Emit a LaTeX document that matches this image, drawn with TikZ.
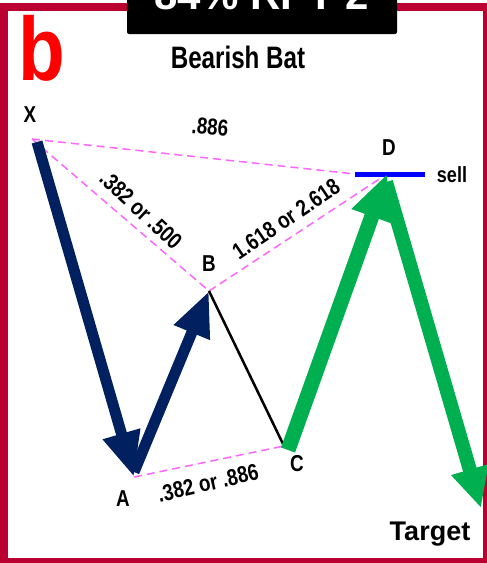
\documentclass[tikz,border=0pt]{standalone}
\usepackage{fontspec}
\setmainfont{Liberation Sans}
\usetikzlibrary{arrows.meta}
\definecolor{framecol}{RGB}{186,0,48}
\definecolor{navycol}{RGB}{0,32,96}
\definecolor{greencol}{RGB}{0,176,80}
\definecolor{fibcol}{RGB}{255,102,255}
\newcommand{\fsz}[1]{\fontsize{#1}{#1}\selectfont}
\newcommand{\nar}[1]{\scalebox{0.82}[1]{#1}}
\begin{document}
\begin{tikzpicture}[x=1pt,y=-1pt,
  fib/.style={draw=fibcol, line width=1.5pt, dash pattern=on 8pt off 5pt},
  navyarrow/.style={draw=navycol, line width=11pt, -{Triangle[length=45pt,width=36pt]}},
  greenarrow/.style={draw=greencol, line width=15pt, -{Triangle[length=45pt,width=40pt]}},
  ptlabel/.style={inner sep=0pt, font=\bfseries\fsz{23}},
  ratio/.style={inner sep=0pt, font=\bfseries\fsz{23}}]
\useasboundingbox (0,0) rectangle (487,563);
\clip (0,0) rectangle (487,563);
\fill[white] (0,0) rectangle (487,563);
% frame
\draw[framecol, line width=8pt] (4,7) rectangle (487,562);
% black title box
\fill[black, rounded corners=2pt] (127,-6) rectangle (397,34);
\node[anchor=base, inner sep=0pt, text=white, font=\bfseries\fsz{42}] (rpt) at (262,9) {84\% RPT 2};
% big b
\node[anchor=base, inner sep=0pt, text=red, font=\bfseries\fsz{90}] (bee) at (42,80) {\scalebox{0.85}[1]{b}};
% title
\node[anchor=base, inner sep=0pt, font=\bfseries\fsz{31}] (title) at (238,68) {\scalebox{0.78}[1]{Bearish Bat}};
% points
\coordinate (X) at (32,139);
\coordinate (Xs) at (37,142);
\coordinate (A) at (134,477);
\coordinate (As) at (134,472);
\coordinate (B) at (209,291);
\coordinate (C) at (284,446);
\coordinate (Cs) at (288,450);
\coordinate (D) at (387,174);
\coordinate (Ds) at (386,182);
\coordinate (T) at (481,508);
\coordinate (sellL) at (355,174);
\coordinate (sellR) at (425,174);
% fib lines
\draw[fib] (X) -- (sellL);
\draw[fib] (X) -- (B);
\draw[fib] (B) -- (D);
\draw[fib] (A) -- (C);
% BC line
\draw[black, line width=2.5pt] (B) -- (C);
% sell line
\draw[blue, line width=5pt] (sellL) -- (sellR);
% arrows
\draw[navyarrow] (Xs) -- (A);
\draw[navyarrow] (As) -- (B);
\draw[greenarrow] (Cs) -- (D);
\draw[greenarrow, line width=14pt, -{Triangle[length=40pt,width=36pt]}] (Ds) -- (T);
% labels
\node[ptlabel] (lX) at (30,115) {\nar{X}};
\node[ptlabel] (lA) at (123,499) {\nar{A}};
\node[ptlabel] (lB) at (209,264) {\nar{B}};
\node[ptlabel] (lC) at (297,464) {\nar{C}};
\node[ptlabel] (lD) at (389,148) {\nar{D}};
\node[inner sep=0pt, anchor=base, font=\bfseries\fsz{22}] (lsell) at (452,182) {\nar{sell}};
\node[inner sep=0pt, anchor=base, font=\bfseries\fsz{27}] (ltarget) at (430,540) {Target};
\node[ratio, rotate=-5] (rXD) at (210,127) {\nar{.886}};
\node[ratio, rotate=-43] (rXB) at (141,210) {\nar{.382 or .500}};
\node[ratio, rotate=34] (rBD) at (286,219) {\nar{1.618 or 2.618}};
\node[ratio, rotate=13] (rAC) at (208,483) {\nar{.382 or .886}};
\end{tikzpicture}
\end{document}
